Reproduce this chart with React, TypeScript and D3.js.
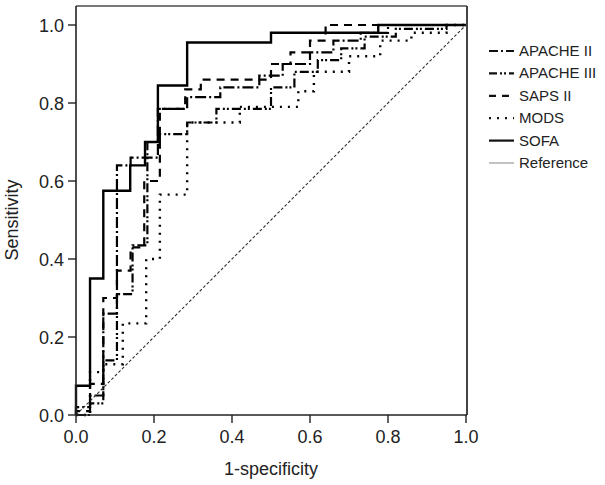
import React from "react";
import * as d3 from "d3";

type Pt = [number, number];

const xTicks = [0, 0.2, 0.4, 0.6, 0.8, 1.0];
const yTicks = [0, 0.2, 0.4, 0.6, 0.8, 1.0];

const apache2: Pt[] = [[0,0],[0,0.02],[0.036,0.02],[0.036,0.05],[0.07,0.05],[0.07,0.26],[0.105,0.26],[0.105,0.64],[0.14,0.64],[0.14,0.66],[0.21,0.66],[0.21,0.785],[0.285,0.785],[0.285,0.815],[0.37,0.815],[0.37,0.84],[0.47,0.84],[0.47,0.87],[0.53,0.87],[0.53,0.9],[0.6,0.9],[0.6,0.93],[0.66,0.93],[0.66,0.96],[0.73,0.96],[0.73,0.98],[0.8,0.98],[0.8,1],[1,1]];
const apache3: Pt[] = [[0,0],[0.036,0],[0.036,0.03],[0.07,0.03],[0.07,0.14],[0.105,0.14],[0.105,0.31],[0.145,0.31],[0.145,0.435],[0.183,0.435],[0.183,0.70],[0.215,0.70],[0.215,0.72],[0.285,0.72],[0.285,0.75],[0.36,0.75],[0.36,0.785],[0.5,0.785],[0.5,0.84],[0.56,0.84],[0.56,0.88],[0.62,0.88],[0.62,0.91],[0.68,0.91],[0.68,0.94],[0.74,0.94],[0.74,0.97],[0.82,0.97],[0.82,0.99],[0.95,0.99],[0.95,1],[1,1]];
const saps2: Pt[] = [[0,0],[0,0.01],[0.036,0.01],[0.036,0.08],[0.07,0.08],[0.07,0.30],[0.105,0.30],[0.105,0.37],[0.14,0.37],[0.14,0.43],[0.175,0.43],[0.175,0.6],[0.215,0.6],[0.215,0.785],[0.28,0.785],[0.28,0.835],[0.32,0.835],[0.32,0.86],[0.5,0.86],[0.5,0.9],[0.55,0.9],[0.55,0.93],[0.6,0.93],[0.6,0.96],[0.64,0.96],[0.64,1],[1,1]];
const mods: Pt[] = [[0,0],[0.036,0],[0.036,0.11],[0.07,0.11],[0.07,0.13],[0.12,0.13],[0.12,0.235],[0.18,0.235],[0.18,0.40],[0.215,0.40],[0.215,0.565],[0.285,0.565],[0.285,0.75],[0.42,0.75],[0.42,0.79],[0.57,0.79],[0.57,0.83],[0.61,0.83],[0.61,0.88],[0.7,0.88],[0.7,0.92],[0.78,0.92],[0.78,0.96],[0.86,0.96],[0.86,0.98],[0.95,0.98],[0.95,1],[1,1]];
const sofa: Pt[] = [[0,0],[0,0.075],[0.036,0.075],[0.036,0.35],[0.07,0.35],[0.07,0.575],[0.139,0.575],[0.139,0.64],[0.177,0.64],[0.177,0.70],[0.21,0.70],[0.21,0.845],[0.285,0.845],[0.285,0.955],[0.5,0.955],[0.5,0.98],[0.775,0.98],[0.775,1],[1,1]];
const reference: Pt[] = [[0,0],[1,1]];

const seriesNames = ["APACHE II", "APACHE III", "SAPS II", "MODS", "SOFA", "Reference"];
const seriesData = [apache2, apache3, saps2, mods, sofa, reference];
const seriesDash = ["11,3,2,3", "9,3,2,2,2,3", "8,6", "2,6", "", "3,2"];
const seriesWidth = [2.2, 2.2, 2.2, 2.4, 2.4, 1.1];
const seriesColor = ["#000", "#000", "#000", "#000", "#000", "#333"];
const legendDash = ["9,3,2,3", "8,3,2,2,2,3", "7,6", "2,6", "", ""];
const legendColor = ["#111", "#111", "#111", "#111", "#111", "#999"];

export default function App() {
  const W = 605, H = 485;
  const x0 = 76, x1 = 466, y0 = 415, y1 = 25;
  const x = d3.scaleLinear().domain([0, 1]).range([x0, x1]);
  const y = d3.scaleLinear().domain([0, 1]).range([y0, y1]);
  const line = d3.line<Pt>().x(d => x(d[0])).y(d => y(d[1]));
  const font = "'Liberation Sans', Arial, Helvetica, sans-serif";
  const txt = "#222";

  return (
    <svg width={W} height={H} style={{ position: "absolute", left: 0, top: 0 }} fontFamily={font}>
      <rect width={W} height={H} fill="#fff" />
      <line x1={x0} y1={6} x2={x1 + 1} y2={6} stroke="#777" strokeWidth={2} />
      <line x1={x1 + 1} y1={6} x2={x1 + 1} y2={y0} stroke="#444" strokeWidth={2} />
      {seriesData.map((d, i) => (
        <path key={i} d={line(d) || ""} fill="none" stroke={seriesColor[i]}
          strokeWidth={seriesWidth[i]} strokeDasharray={seriesDash[i] || undefined} />
      ))}
      <line x1={x0} y1={6} x2={x0} y2={y0} stroke="#222" strokeWidth={1.6} />
      <line x1={x0} y1={y0} x2={x1 + 1} y2={y0} stroke="#222" strokeWidth={1.6} />
      {xTicks.map(t => (
        <g key={"x" + t}>
          <line x1={x(t)} x2={x(t)} y1={y0} y2={y0 + 8} stroke="#222" strokeWidth={1.4} />
          <text x={x(t)} y={y0 + 28} textAnchor="middle" fontSize={18} fill={txt}>{t.toFixed(1)}</text>
        </g>
      ))}
      {yTicks.map(t => (
        <g key={"y" + t}>
          <line x1={x0 - 8} x2={x0} y1={y(t)} y2={y(t)} stroke="#222" strokeWidth={1.4} />
          <text x={x0 - 12} y={y(t) + 6.5} textAnchor="end" fontSize={18} fill={txt}>{t.toFixed(1)}</text>
        </g>
      ))}
      <text x={(x0 + x1) / 2} y={475} textAnchor="middle" fontSize={18} fill={txt}>1-specificity</text>
      <text transform={`translate(18,${(y0 + y1) / 2}) rotate(-90)`} textAnchor="middle" fontSize={18} fill={txt}>Sensitivity</text>
      {seriesNames.map((n, i) => {
        const ly = 51 + i * 22.4;
        return (
          <g key={n}>
            <line x1={489} x2={514} y1={ly} y2={ly} stroke={legendColor[i]}
              strokeWidth={i === 5 ? 1.2 : 2.2} strokeDasharray={legendDash[i] || undefined} />
            <text x={519} y={ly + 5} fontSize={15} fill={txt}>{n}</text>
          </g>
        );
      })}
    </svg>
  );
}
